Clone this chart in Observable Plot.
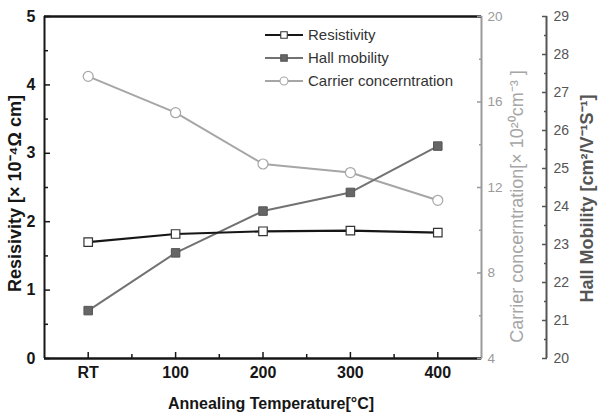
<!DOCTYPE html>
<html>
<head>
<meta charset="utf-8">
<script src="https://cdn.jsdelivr.net/npm/d3@7"></script>
<script src="https://cdn.jsdelivr.net/npm/@observablehq/plot@0.6"></script>
<style>
  html, body { margin: 0; padding: 0; background: #fff; }
  #chart { position: relative; width: 600px; height: 414px; overflow: hidden; }
</style>
</head>
<body>
<div id="chart"></div>
<script>
// Annealing temperature categories (RT = room temperature)
const categories = ["RT", "100", "200", "300", "400"];

// Measured film properties per annealing step
const resistivity = [1.70, 1.82, 1.86, 1.87, 1.84];      // × 10^-4 Ω cm
const hallMobility = [21.26, 22.78, 23.88, 24.37, 25.59]; // cm²/V·s
const carrierConc = [17.2, 15.5, 13.1, 12.7, 11.4];       // × 10^20 cm^-3

// Tick values for the three vertical axes
const resTicks = [0, 1, 2, 3, 4, 5];
const resMinor = [0.5, 1.5, 2.5, 3.5, 4.5];
const carrierTicks = [4, 8, 12, 16, 20];
const carrierMinor = [6, 10, 14, 18];
const hallTicks = [20, 21, 22, 23, 24, 25, 26, 27, 28, 29];
const hallMinor = [20.5, 21.5, 22.5, 23.5, 24.5, 25.5, 26.5, 27.5, 28.5];

// The shared y scale is in resistivity units; the secondary axes are mapped onto it
const carrierDomain = [4, 20];
const hallDomain = [20, 29];
const resDomain = [0, 5];
const toRes = (dom) => v => (v - dom[0]) / (dom[1] - dom[0]) * (resDomain[1] - resDomain[0]);
const fromRes = (dom) => y => y / (resDomain[1] - resDomain[0]) * (dom[1] - dom[0]) + dom[0];
const carrierY = toRes(carrierDomain), hallY = toRes(hallDomain);
const carrierV = fromRes(carrierDomain), hallV = fromRes(hallDomain);

const rows = categories.map((c, i) => ({
  i, cat: c,
  res: resistivity[i],
  hall: hallY(hallMobility[i]),
  carrier: carrierY(carrierConc[i])
}));

const catIdx = categories.map((_, i) => i);
const catMid = catIdx.slice(0, -1).map(i => i + 0.5);

const font = "'Liberation Sans', Arial, Helvetica, sans-serif";
const black = "#161616", hallGray = "#727272", hallDark = "#555", carrierGray = "#a6a6a6";
const none = () => "";

const plot = Plot.plot({
  width: 600,
  height: 414,
  marginLeft: 44,
  marginRight: 119,
  marginTop: 16,
  marginBottom: 56,
  x: { domain: [-0.5, categories.length - 0.5], axis: null },
  y: { domain: resDomain, axis: null },
  style: { fontFamily: font, background: "transparent", overflow: "visible" },
  marks: [
    // frame
    Plot.ruleX([-0.5], { stroke: black, strokeWidth: 2 }),
    Plot.ruleX([categories.length - 0.5], { stroke: "#9a9a9a", strokeWidth: 2 }),
    Plot.ruleX([categories.length - 0.5], { stroke: hallDark, strokeWidth: 2, dx: 65 }),
    Plot.ruleY([resDomain[0]], { stroke: black, strokeWidth: 2.5 }),
    Plot.ruleY([resDomain[1]], { stroke: black, strokeWidth: 2.5 }),

    // x axis: inward ticks + bold labels
    Plot.axisX({ ticks: catIdx, tickSize: 6, dy: -6, tickFormat: none, label: null, stroke: black, strokeWidth: 1.5 }),
    Plot.axisX({ ticks: catMid, tickSize: 4, dy: -4, tickFormat: none, label: null, stroke: black, strokeWidth: 1.5 }),
    Plot.axisX({ ticks: catIdx, tickSize: 0, tickPadding: 8, tickFormat: i => categories[i], label: null,
                 fontSize: 16, fontWeight: "bold", fill: black }),

    // left axis: resistivity
    Plot.axisY({ ticks: resTicks, tickSize: 6, dx: 6, tickFormat: none, label: null, stroke: black, strokeWidth: 1.5 }),
    Plot.axisY({ ticks: resMinor, tickSize: 4, dx: 4, tickFormat: none, label: null, stroke: black, strokeWidth: 1.5 }),
    Plot.axisY({ ticks: resTicks, tickSize: 0, tickPadding: 9, tickFormat: d => d, label: null,
                 fontSize: 16, fontWeight: "bold", fill: black }),

    // first right axis: carrier concentration
    Plot.axisY({ anchor: "right", ticks: carrierTicks.map(carrierY), tickSize: 5, dx: -5, tickFormat: none, label: null, stroke: "#9a9a9a", strokeWidth: 1.5 }),
    Plot.axisY({ anchor: "right", ticks: carrierMinor.map(carrierY), tickSize: 3, dx: -3, tickFormat: none, label: null, stroke: "#9a9a9a", strokeWidth: 1.5 }),
    Plot.axisY({ anchor: "right", ticks: carrierTicks.map(carrierY), tickSize: 0, tickPadding: 6,
                 tickFormat: d => Math.round(carrierV(d)), label: null, fontSize: 13.5, fill: "#9a9a9a" }),

    // second right axis: Hall mobility
    Plot.axisY({ anchor: "right", ticks: hallTicks.map(hallY), tickSize: 5, dx: 60, tickFormat: none, label: null, stroke: hallDark, strokeWidth: 1.5 }),
    Plot.axisY({ anchor: "right", ticks: hallMinor.map(hallY), tickSize: 3, dx: 62, tickFormat: none, label: null, stroke: hallDark, strokeWidth: 1.5 }),
    Plot.axisY({ anchor: "right", ticks: hallTicks.map(hallY), tickSize: 0, tickPadding: 3, dx: 69,
                 tickFormat: d => Math.round(hallV(d)), label: null, fontSize: 14, fill: hallDark }),

    // axis titles
    Plot.text(["Annealing Temperature[°C]"], { frameAnchor: "bottom", textAnchor: "middle", dy: 50, dx: 8, fontSize: 16, fontWeight: "bold", fill: black }),
    Plot.text(["Resisivity [× 10⁻⁴Ω cm]"], { frameAnchor: "left", textAnchor: "middle", rotate: -90, dx: -29, dy: 6, fontSize: 18, fontWeight: "bold", fill: black }),
    Plot.text(["Carrier concerntration[× 10²⁰cm⁻³ ]"], { frameAnchor: "right", textAnchor: "middle", rotate: -90, dx: 36, dy: 19, fontSize: 18, fill: carrierGray }),
    Plot.text(["Hall Mobility [cm²/V⁻¹S⁻¹]"], { frameAnchor: "right", textAnchor: "middle", rotate: -90, dx: 106, dy: 11, fontSize: 18, fontWeight: "bold", fill: hallDark }),

    // series lines
    Plot.line(rows, { x: "i", y: "carrier", stroke: carrierGray, strokeWidth: 2 }),
    Plot.line(rows, { x: "i", y: "hall", stroke: hallGray, strokeWidth: 2 }),
    Plot.line(rows, { x: "i", y: "res", stroke: black, strokeWidth: 2.2 }),

    // series markers
    Plot.dot(rows, { x: "i", y: "carrier", r: 5, fill: "white", stroke: carrierGray, strokeWidth: 1.2 }),
    Plot.dot(rows, { x: "i", y: "hall", symbol: "square", r: 4.8, fill: "#666", stroke: "#555", strokeWidth: 1 }),
    Plot.dot(rows, { x: "i", y: "res", symbol: "square", r: 4.8, fill: "white", stroke: "#333", strokeWidth: 1.2 })
  ]
});

const wrap = document.getElementById("chart");
wrap.appendChild(plot);

// Legend drawn on top of the plot area
const legendItems = [
  { name: "Resistivity", stroke: black, shape: "square", fill: "white", mstroke: "#333" },
  { name: "Hall mobility", stroke: hallGray, shape: "square", fill: "#666", mstroke: "#555" },
  { name: "Carrier concerntration", stroke: carrierGray, shape: "circle", fill: "white", mstroke: carrierGray }
];
const legend = d3.select(wrap).append("svg")
  .attr("width", 600).attr("height", 414)
  .style("position", "absolute").style("left", "0px").style("top", "0px")
  .style("pointer-events", "none");
const rowsG = legend.selectAll("g").data(legendItems).join("g")
  .attr("transform", (d, k) => `translate(265,${35 + k * 23})`);
rowsG.append("line").attr("x1", 0).attr("x2", 38).attr("stroke", d => d.stroke).attr("stroke-width", 2);
rowsG.append("path")
  .attr("d", d => d3.symbol(d.shape === "square" ? d3.symbolSquare : d3.symbolCircle, d.shape === "square" ? 42 : 50)())
  .attr("transform", "translate(19,0)")
  .attr("fill", d => d.fill).attr("stroke", d => d.mstroke).attr("stroke-width", 1.1);
rowsG.append("text").attr("x", 43).attr("dy", "0.35em")
  .attr("font-family", font).attr("font-size", 15).attr("fill", "#333")
  .text(d => d.name);
</script>
</body>
</html>
